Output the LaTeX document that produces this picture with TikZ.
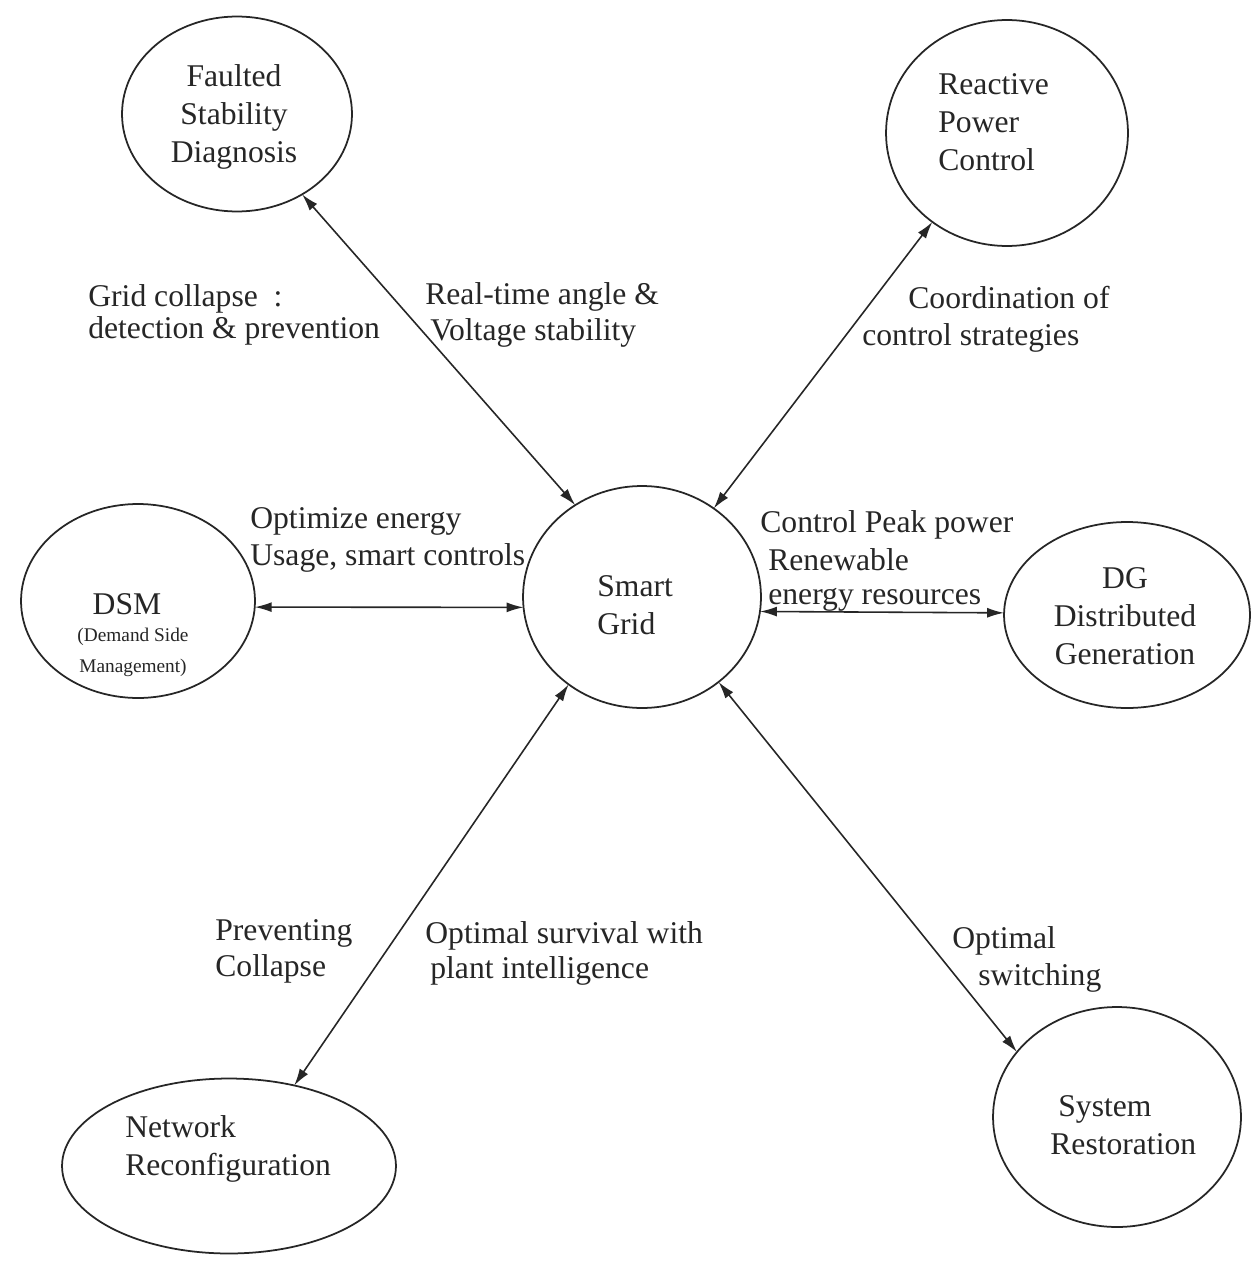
\documentclass[tikz,border=0pt]{standalone}
\usepackage{fontspec}
\setmainfont{Liberation Serif}
\usetikzlibrary{arrows.meta,shapes.geometric}
\begin{document}
\begin{tikzpicture}[x=0.02cm,y=-0.02cm,
  ell/.style={draw=black!85, line width=1pt, ellipse, inner sep=0pt, outer sep=0pt},
  lbl/.style={anchor=base west, inner sep=0pt, font=\fontsize{18}{21.5}\selectfont, text=black!85},
  ntxt/.style={anchor=base, inner sep=0pt, align=center, font=\fontsize{18}{21.5}\selectfont, text=black!85},
  small/.style={anchor=base, inner sep=0pt, align=center, font=\fontsize{11}{17.5}\selectfont, text=black!85},
  conn/.style={draw=black!85, line width=0.9pt, {Latex[length=0.34cm,width=0.2cm]}-{Latex[length=0.34cm,width=0.2cm]}}]
\useasboundingbox[fill=white] (0,0) rectangle (1252,1264);

% ellipses
\node[ell, minimum width=4.6cm, minimum height=3.9cm] (fsd) at (237,114) {};
\node[ell, minimum width=4.84cm, minimum height=4.52cm] (rpc) at (1007,133) {};
\node[ell, minimum width=4.68cm, minimum height=3.88cm] (dsm) at (138,601) {};
\node[ell, minimum width=4.76cm, minimum height=4.44cm] (sg) at (642,597) {};
\node[ell, minimum width=4.92cm, minimum height=3.72cm] (dg) at (1127,615) {};
\node[ell, minimum width=6.68cm, minimum height=3.50cm] (nr) at (229,1166) {};
\node[ell, minimum width=4.96cm, minimum height=4.40cm] (sr) at (1117,1117) {};

% texts inside ellipses (anchor = baseline of last line)
\node[ntxt] (fsdT) at (234,162) {Faulted\\Stability\\Diagnosis};
\node[lbl, align=left] (rpcT) at (938,170) {Reactive\\Power\\Control};
\node[ntxt] (dsmT) at (127,614) {DSM};
\node[small] (dsmS) at (133,672) {(Demand Side\\Management)};
\node[lbl, align=left] (sgT) at (597,634) {Smart\\Grid};
\node[ntxt] (dgT) at (1125,664) {DG\\Distributed\\Generation};
\node[lbl, align=left] (nrT) at (125,1175) {Network\\Reconfiguration};
\node[lbl, align=left] (srT) at (1050,1154) {\hspace*{0.16cm}System\\Restoration};

% connectors
\draw[conn] (fsd.-51) -- (sg.126);
\draw[conn] (rpc.230) -- (sg.51);
\draw[conn] (dsm.-3) -- (sg.185);
\draw[conn] (sg.-7) -- (dg.179);
\draw[conn] (nr.51) -- (sg.230);
\draw[conn] (sg.-48) -- (sr.147);

% labels
\node[lbl] (l1a) at (88,306) {Grid collapse\ \ :};
\node[lbl] (l1b) at (88,338) {detection \& prevention};
\node[lbl] (l2a) at (425,304) {Real-time angle \&};
\node[lbl] (l2b) at (430,340) {Voltage stability};
\node[lbl] (l3a) at (908,308) {Coordination of};
\node[lbl] (l3b) at (862,345) {control strategies};
\node[lbl] (l4a) at (250,528) {Optimize energy};
\node[lbl] (l4b) at (250,565) {Usage, smart controls};
\node[lbl] (l5a) at (760,532) {Control Peak power};
\node[lbl] (l5b) at (768,570) {Renewable};
\node[lbl] (l5c) at (768,604) {energy resources};
\node[lbl] (l6a) at (215,940) {Preventing};
\node[lbl] (l6b) at (215,976) {Collapse};
\node[lbl] (l7a) at (425,943) {Optimal survival with};
\node[lbl] (l7b) at (430,978) {plant intelligence};
\node[lbl] (l8a) at (952,948) {Optimal};
\node[lbl] (l8b) at (978,985) {switching};
\end{tikzpicture}
\end{document}
